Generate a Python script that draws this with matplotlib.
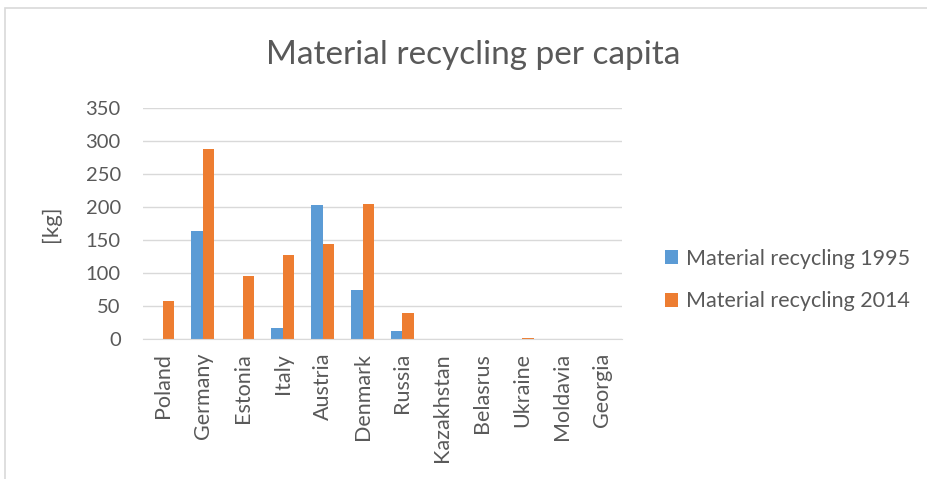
import numpy as np
import matplotlib
matplotlib.use('Agg')
from matplotlib import pyplot as plt
from matplotlib.patches import Rectangle

countries = ['Poland', 'Germany', 'Estonia', 'Italy', 'Austria', 'Denmark', 'Russia',
             'Kazakhstan', 'Belasrus', 'Ukraine', 'Moldavia', 'Georgia']
recycling_1995 = [0, 164, 0, 16, 203, 74, 12, 0, 0, 0, 0, 0]
recycling_2014 = [57, 288, 96, 127, 144, 205, 39, 0, 0, 2, 0, 0]
yticks = [0, 50, 100, 150, 200, 250, 300, 350]

plt.rcParams['font.family'] = ['Lato', 'DejaVu Sans']
txt = '#595959'

fig = plt.figure(figsize=(9.27, 4.79), dpi=100)
# chart frame
fig.patches.append(Rectangle((5/927, -0.1), 1.2, 1 - 8/479 + 0.1, transform=fig.transFigure,
                             fill=False, edgecolor='#d9d9d9', linewidth=1.2))

ax = fig.add_axes([143/927, 1 - 339/479, 479/927, 231/479])
x = np.arange(len(countries))
w = 0.286
ax.bar(x - w/2, recycling_1995, w, color='#5b9bd5', label='Material recycling 1995')
ax.bar(x + w/2, recycling_2014, w, color='#ed7d31', label='Material recycling 2014')

ax.set_xlim(-0.5, len(countries) - 0.5)
ax.set_ylim(0, 350)
ax.set_yticks(yticks)
ax.set_yticklabels([str(v) for v in yticks], fontsize=14.5, color=txt)
ax.set_xticks(x)
ax.set_xticklabels(countries, rotation=90, fontsize=15.5, color=txt)
ax.tick_params(axis='y', length=0, pad=16)
ax.tick_params(axis='x', length=0, pad=10)
ax.yaxis.grid(True, color='#d9d9d9', linewidth=1)
ax.set_axisbelow(True)
for s in ['top', 'right', 'left']:
    ax.spines[s].set_visible(False)
ax.spines['bottom'].set_color('#d9d9d9')
ax.set_ylabel('[kg]', fontsize=16, color=txt)
ax.yaxis.set_label_coords(-82/479, (339 - 224)/231)

fig.text(473/927, 1 - 55/479, 'Material recycling per capita', ha='center', va='center',
         fontsize=24, color=txt)

fig.legend(loc='center left', bbox_to_anchor=(646/927, 1 - 280/479), frameon=False,
           fontsize=15.5, labelcolor=txt, labelspacing=1.05, handlelength=0.6, handleheight=0.6,
           handletextpad=0.35)

fig.savefig('out.png', dpi=100)
